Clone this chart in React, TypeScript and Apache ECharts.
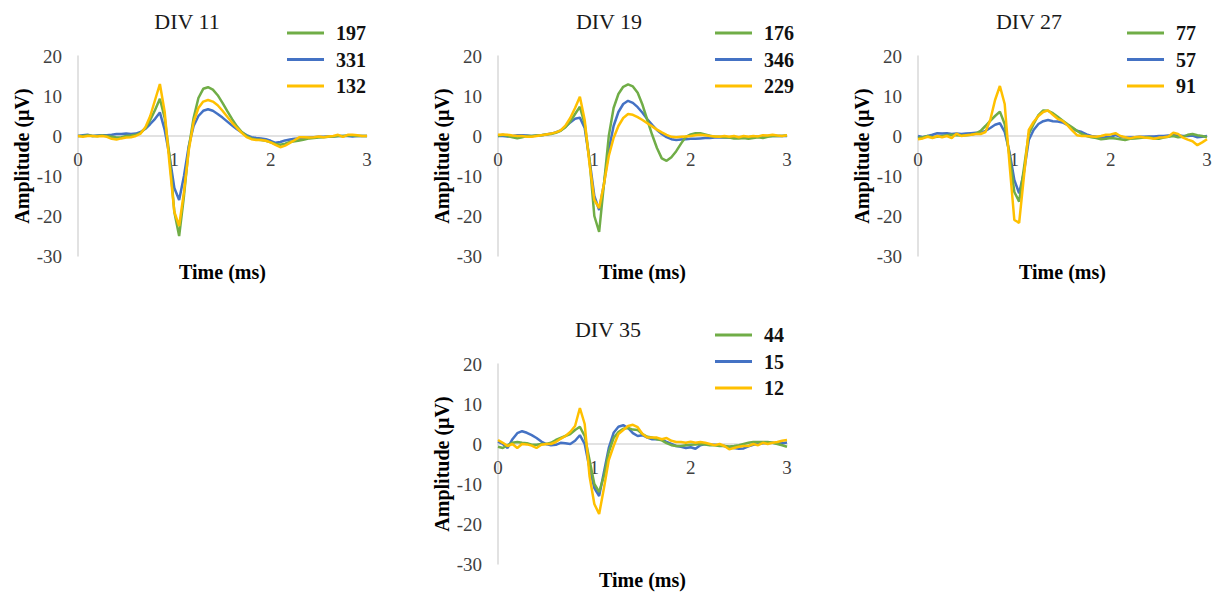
import React, { useEffect, useRef } from "react";
import * as echarts from "echarts";

const T = [0, 0.05, 0.1, 0.15, 0.2, 0.25, 0.3, 0.35, 0.4, 0.45, 0.5, 0.55, 0.6, 0.65, 0.7, 0.75, 0.8, 0.85, 0.9, 0.95, 1, 1.05, 1.1, 1.15, 1.2, 1.25, 1.3, 1.35, 1.4, 1.45, 1.5, 1.55, 1.6, 1.65, 1.7, 1.75, 1.8, 1.85, 1.9, 1.95, 2, 2.05, 2.1, 2.15, 2.2, 2.25, 2.3, 2.35, 2.4, 2.45, 2.5, 2.55, 2.6, 2.65, 2.7, 2.75, 2.8, 2.85, 2.9, 2.95, 3];

const panelTitles = ["DIV 11", "DIV 19", "DIV 27", "DIV 35"];
const xTickLabels = ["0", "1", "2", "3"];
const yAxisName = "Amplitude (µV)";
const xAxisName = "Time (ms)";

// DIV 11
const div11_197 = [0, 0, 0.2, 0, 0, 0.1, 0, -0.2, -0.4, -0.3, 0, 0.1, 0.3, 0.8, 2, 4, 6.5, 9.3, 4.5, -5, -19, -25, -15, -3, 4.5, 9.5, 11.8, 12.2, 11.6, 10.2, 8.3, 6.2, 4.2, 2.4, 1, 0, -0.6, -0.9, -1, -1.2, -1.6, -2, -2.2, -1.9, -1.5, -1.3, -1.1, -0.9, -0.6, -0.5, -0.4, -0.3, -0.2, -0.1, 0, 0, 0.1, 0.1, 0, 0, 0];
const div11_331 = [0, 0.2, 0.3, 0, 0.1, 0.2, 0.2, 0.3, 0.5, 0.5, 0.6, 0.5, 0.6, 1, 1.8, 3, 4.3, 5.9, 1.5, -5, -13, -16, -10, -2.5, 2.5, 5, 6.3, 6.7, 6.3, 5.5, 4.6, 3.6, 2.6, 1.7, 0.9, 0.2, -0.3, -0.5, -0.6, -0.8, -1.2, -1.7, -1.5, -1.1, -0.9, -0.7, -0.6, -0.5, -0.4, -0.3, -0.2, -0.2, -0.1, -0.1, 0, 0, 0, -0.1, 0, 0, 0];
const div11_132 = [0, -0.2, 0, 0, -0.1, 0, -0.2, -0.7, -0.9, -0.6, -0.4, -0.3, 0, 0.6, 2.2, 5, 9, 13, 6, -7, -19, -22.5, -14, -3.5, 3.5, 7, 8.6, 9, 8.6, 7.7, 6.3, 4.8, 3.3, 2, 0.8, -0.3, -0.8, -1, -1, -1.2, -1.6, -2.2, -2.8, -2.4, -1.7, -1, -0.3, -0.3, -0.4, -0.3, -0.1, -0.3, -0.1, 0, 0.3, -0.2, 0.3, 0.3, 0.2, 0, 0];

// DIV 19
const div19_176 = [0, 0.3, 0, -0.3, -0.6, -0.3, 0, 0, 0.1, 0.2, 0.4, 0.5, 0.8, 1.3, 2.2, 3.6, 5.5, 7.3, 3, -6, -20, -24, -12, 0, 7, 10.5, 12.3, 12.9, 12.4, 10.8, 7.8, 4, 0.3, -3, -5.6, -6.2, -5.3, -3.8, -1.9, -0.2, 0.4, 0.7, 0.7, 0.4, 0.1, -0.2, -0.2, -0.3, -0.4, -0.6, -0.6, -0.5, -0.7, -0.5, -0.3, -0.5, -0.2, 0, 0, 0, 0.2];
const div19_346 = [0, 0, -0.1, 0, 0.2, 0.2, 0.1, 0, 0.1, 0.2, 0.4, 0.6, 0.9, 1.4, 2.3, 3.4, 4.3, 4.6, 2, -6, -15, -18.5, -12, -3.5, 2.5, 6, 8, 8.8, 8.3, 7.2, 5.8, 4.2, 2.8, 1.5, 0.5, -0.3, -0.8, -1, -0.9, -0.8, -0.7, -0.7, -0.6, -0.5, -0.5, -0.4, -0.3, -0.4, -0.4, -0.3, -0.3, -0.4, -0.3, -0.2, -0.2, -0.1, 0, 0, 0, 0, 0];
const div19_229 = [0.3, 0.4, 0.3, 0.1, 0, 0, -0.2, -0.2, 0, 0.2, 0.4, 0.6, 0.9, 1.4, 2.6, 4.5, 7, 9.8, 4, -7, -16, -18, -12, -5, -0.5, 2.5, 4.5, 5.5, 5.3, 4.7, 4, 3.2, 2.4, 1.6, 0.9, 0.3, -0.2, -0.3, -0.2, -0.1, 0, 0.2, 0.3, 0.2, 0, -0.1, -0.2, 0, -0.2, 0, -0.3, 0, -0.2, 0, -0.1, 0.2, 0.1, 0.3, 0.1, 0, 0.2];

// DIV 27
const div27_77 = [-0.5, -0.3, 0, -0.3, -0.2, 0, 0.2, 0.3, 0.2, 0.1, 0.2, 0.3, 0.6, 1.3, 2.5, 3.8, 5, 6.1, 3, -5, -14, -16.4, -8, 0.5, 3, 5.2, 6.4, 6.3, 5.7, 4.8, 3.9, 3, 2.2, 1.3, 0.5, 0, -0.3, -0.5, -0.8, -0.7, -0.5, -0.6, -0.8, -1, -0.7, -0.6, -0.5, -0.4, -0.3, -0.6, -0.7, -0.4, -0.2, 0, -0.3, -0.2, 0.3, 0.5, 0.2, 0, -0.3];
const div27_57 = [0, -0.3, 0, 0.3, 0.7, 0.6, 0.7, 0.5, 0.6, 0.5, 0.6, 0.7, 0.8, 0.8, 1.3, 2, 2.8, 3.2, 1, -4, -11, -14.3, -9, -1, 1.5, 3, 3.7, 4, 3.7, 3.6, 3.4, 2.8, 2, 1.3, 1, 0.4, 0, -0.2, -0.5, -0.3, -0.3, 0.3, -0.2, -0.4, -0.4, -0.3, -0.2, -0.2, -0.1, -0.1, 0, 0, 0.1, 0.2, 0.2, 0, 0, 0.1, -0.3, -0.2, 0];
const div27_91 = [-0.8, -0.6, -0.2, -0.5, 0, -0.3, 0, -0.5, 0.6, 0, 0.2, 0.3, 0.5, 0.5, 1, 4, 9, 12.5, 8, -7, -21, -21.7, -10, 1.5, 3.5, 5, 6, 6.4, 5.3, 4.3, 3.8, 2.7, 1.4, 0.2, 0, 0, -0.1, -0.2, 0, 0.3, 0.4, 0.7, 0, -0.3, -0.6, -0.3, -0.2, -0.4, -0.5, -0.7, -0.4, -0.3, -0.1, 0.8, 0.5, -0.4, -0.9, -1.3, -2.3, -1.6, -0.8];

// DIV 35
const div35_44 = [-0.7, -1, -0.3, 0.3, 0.5, 0.3, 0.2, -0.2, -0.2, 0, 0, 0.3, 1, 1.5, 2, 2.5, 3.5, 4.3, 2, -4, -10, -12, -8, -2, 1.5, 3, 3.8, 4, 3.6, 3.5, 2.5, 1.8, 1.6, 1.2, 0.9, 0.2, -0.3, -0.5, -0.5, -0.3, -0.2, -0.1, 0, -0.1, -0.3, -0.3, -0.5, -0.5, -0.6, -0.5, -0.3, 0, 0.3, 0.5, 0.5, 0.5, 0.5, 0.3, 0, -0.3, -0.7];
const div35_15 = [0.6, 0, -1, 1.2, 2.7, 3.2, 2.8, 2.2, 1.5, 0.6, 0, -0.3, -0.2, 0.3, 0.2, 0, 0.8, 2.2, 0, -6, -11, -13, -7, -1, 2.8, 4.3, 4.7, 4, 2.7, 2, 2.2, 1.6, 1.2, 1.2, 1.2, 0.5, 0, -0.5, -0.7, -1, -0.8, -1.2, -0.3, 0, -0.2, -0.2, -0.3, -0.5, -0.8, -1, -1.2, -1.1, -0.6, -0.2, 0, 0.2, 0.3, 0.3, 0.2, 0.2, 0.4];
const div35_12 = [1, 0.3, -0.5, 0, -1, 0, -0.1, -0.4, -1, -0.2, 0, 0, 0.5, 1.3, 2, 3, 4.5, 9, 5, -8, -15, -17.5, -11, -4, -0.5, 2.5, 3.5, 4.5, 4.8, 4.2, 2.5, 1.6, 1.6, 1.6, 1.2, 1.5, 0.8, 0.5, 0.5, 0.3, 0.6, 0.3, 0.5, 0.3, 0, -0.3, 0, -0.5, -1.3, -1, -0.7, -0.5, -0.5, 0, -0.3, 0.3, 0, 0.3, 0.5, 0.8, 1];

const seriesNames = [
  ["197", "331", "132"],
  ["176", "346", "229"],
  ["77", "57", "91"],
  ["44", "15", "12"],
];
const seriesValues = [
  [div11_197, div11_331, div11_132],
  [div19_176, div19_346, div19_229],
  [div27_77, div27_57, div27_91],
  [div35_44, div35_15, div35_12],
];
const colors = ["#70AD47", "#4472C4", "#FFC000"];

// layout
const grids = [
  { left: 78, top: 56 },
  { left: 498, top: 56 },
  { left: 918, top: 56 },
  { left: 498, top: 364 },
];
const titlePos = [
  { x: 187, y: 10 },
  { x: 609, y: 10 },
  { x: 1029, y: 10 },
  { x: 608, y: 318 },
];
const legendPos = [
  { x: 287, y: 23 },
  { x: 715, y: 23 },
  { x: 1127, y: 23 },
  { x: 715, y: 325 },
];

const FONT = "'Liberation Serif', 'Times New Roman', serif";

export default function App() {
  const ref = useRef<HTMLDivElement>(null);
  useEffect(() => {
    if (!ref.current) return;
    const chart = echarts.init(ref.current, null, { renderer: "svg" });
    const series: any[] = [];
    seriesValues.forEach((group, p) => {
      group.forEach((vals, k) => {
        series.push({
          type: "line",
          name: seriesNames[p][k],
          xAxisIndex: p,
          yAxisIndex: p,
          showSymbol: false,
          symbol: "none",
          data: T.map((t, i) => [t, vals[i]]),
          lineStyle: { color: colors[k], width: 2.5 },
          itemStyle: { color: colors[k] },
          z: 2 + (k === 1 ? 0 : k === 0 ? 1 : 2),
        });
      });
    });
    chart.setOption({
      animation: false,
      backgroundColor: "#ffffff",
      textStyle: { fontFamily: FONT },
      title: panelTitles.map((t, i) => ({
        text: t,
        left: titlePos[i].x,
        top: titlePos[i].y,
        textAlign: "center",
        padding: 0,
        textStyle: { fontFamily: FONT, fontSize: 22, fontWeight: "normal", color: "#1a1a1a" },
      })),
      legend: seriesNames.map((names, i) => ({
        orient: "vertical",
        left: legendPos[i].x,
        top: legendPos[i].y,
        padding: 0,
        itemWidth: 37,
        itemHeight: 3,
        itemGap: 6.5,
        icon: "rect",
        data: names,
        selectedMode: false,
        textStyle: {
          fontFamily: FONT,
          fontSize: 20,
          fontWeight: "bold",
          color: "#111",
          lineHeight: 20,
          padding: [0, 0, 0, 7],
        },
      })),
      grid: grids.map((g) => ({
        left: g.left,
        top: g.top,
        width: 289,
        height: 200,
        containLabel: false,
        outerBoundsMode: "none",
      })),
      xAxis: grids.map((_, i) => ({
        type: "value",
        gridIndex: i,
        min: 0,
        max: 3,
        interval: 1,
        name: xAxisName,
        nameLocation: "middle",
        nameGap: 6,
        nameTextStyle: { fontFamily: FONT, fontSize: 20, fontWeight: "bold", color: "#000" },
        axisLine: { show: true, onZero: true, lineStyle: { color: "#d9d9d9", width: 1.5 } },
        axisTick: { show: false },
        splitLine: { show: false },
        axisLabel: {
          fontFamily: FONT,
          fontSize: 19,
          color: "#404040",
          margin: -106,
          formatter: (v: number) => xTickLabels[Math.round(v)] ?? String(v),
        },
      })),
      yAxis: grids.map((_, i) => ({
        type: "value",
        gridIndex: i,
        min: -30,
        max: 20,
        interval: 10,
        name: yAxisName,
        nameLocation: "middle",
        nameRotate: 90,
        nameGap: 46,
        nameTextStyle: { fontFamily: FONT, fontSize: 20, fontWeight: "bold", color: "#000" },
        axisLine: { show: true, onZero: false, lineStyle: { color: "#d9d9d9", width: 1.5 } },
        axisTick: { show: false },
        splitLine: { show: false },
        axisLabel: { fontFamily: FONT, fontSize: 19, color: "#404040", margin: 16 },
      })),
      series,
    });
    return () => chart.dispose();
  }, []);
  return (
    <div
      ref={ref}
      style={{ position: "fixed", left: 0, top: 0, width: 1221, height: 594, background: "#fff" }}
    />
  );
}
